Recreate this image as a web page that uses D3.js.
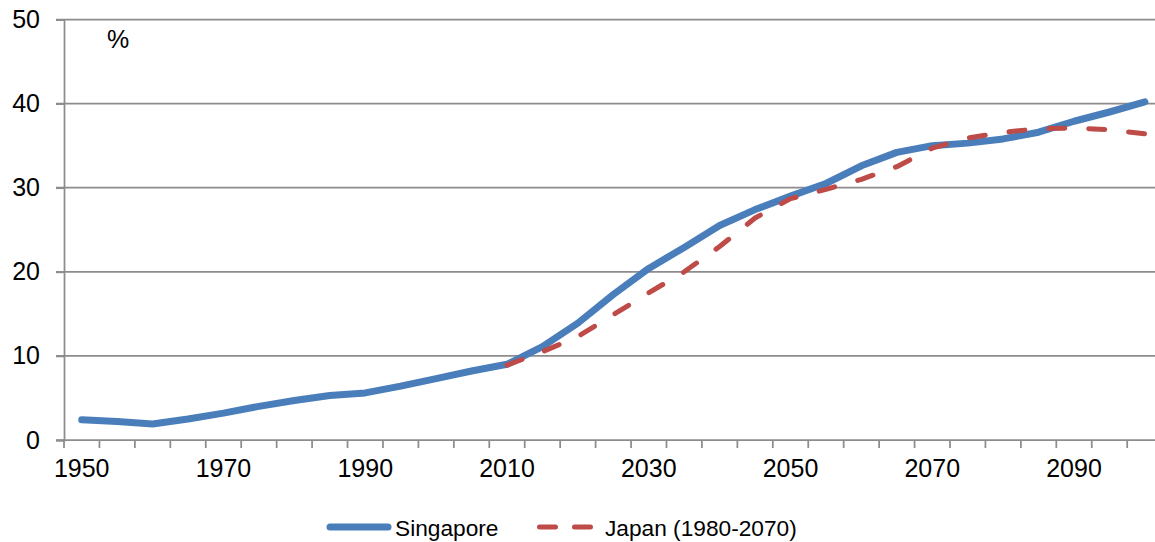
<!DOCTYPE html>
<html>
<head>
<meta charset="utf-8">
<script src="https://cdn.jsdelivr.net/npm/d3@7"></script>
<style>
  html, body { margin: 0; padding: 0; background: #fff; }
  svg { display: block; }
  text { font-family: "Liberation Sans", Arial, sans-serif; fill: #000; }
</style>
</head>
<body>
<svg id="chart" width="1155" height="542"></svg>
<script>
const years = [1950, 1955, 1960, 1965, 1970, 1975, 1980, 1985, 1990, 1995,
  2000, 2005, 2010, 2015, 2020, 2025, 2030, 2035, 2040, 2045,
  2050, 2055, 2060, 2065, 2070, 2075, 2080, 2085, 2090, 2095, 2100];
const singapore = [2.4, 2.2, 1.9, 2.5, 3.2, 4.0, 4.7, 5.3, 5.6, 6.4,
  7.3, 8.2, 9.0, 11.1, 13.9, 17.3, 20.4, 22.9, 25.5, 27.4,
  29.0, 30.5, 32.6, 34.2, 35.0, 35.3, 35.8, 36.6, 37.9, 39.0, 40.2];
const japan = [null, null, null, null, null, null, null, null, null, null,
  null, null, 8.9, 10.5, 12.3, 14.9, 17.5, 20.0, 23.0, 26.4,
  28.7, 29.8, 31.0, 32.5, 34.7, 35.9, 36.6, 37.0, 37.1, 36.9, 36.4];
const yTicks = [0, 10, 20, 30, 40, 50];
const xLabels = [1950, 1970, 1990, 2010, 2030, 2050, 2070, 2090];
const seriesNames = ["Singapore", "Japan (1980-2070)"];

const svg = d3.select("#chart");
const left = 64, bandW = 35.44;
const x = d3.scaleBand().domain(years).range([left, left + years.length * bandW]).padding(0);
const y = d3.scaleLinear().domain([0, 50]).range([440, 19.5]);
const gridColor = "#8c8c8c";

// gridlines
svg.append("g").selectAll("line").data(yTicks.filter(d => d > 0)).join("line")
  .attr("x1", left - 8).attr("x2", 1155)
  .attr("y1", d => y(d)).attr("y2", d => y(d))
  .attr("stroke", gridColor).attr("stroke-width", 1.75);

// y axis
const yAxis = svg.append("g").attr("transform", `translate(${left},0)`)
  .call(d3.axisLeft(y).tickValues(yTicks).tickSize(8).tickPadding(16));
yAxis.select(".domain").attr("stroke", gridColor).attr("stroke-width", 1.75);
yAxis.selectAll(".tick line").attr("stroke", gridColor).attr("stroke-width", 1.75);
yAxis.selectAll(".tick text").style("font-size", "25px").style("font-family", "Liberation Sans, Arial, sans-serif").attr("fill", "#000");

// x axis baseline
svg.append("line").attr("x1", left - 8).attr("x2", 1155).attr("y1", y(0)).attr("y2", y(0))
  .attr("stroke", gridColor).attr("stroke-width", 1.75);
// x tick marks at band boundaries
const boundaries = years.map(d => x(d)).concat([x(years[years.length - 1]) + x.bandwidth()]);
svg.append("g").selectAll("line").data(boundaries).join("line")
  .attr("x1", d => d).attr("x2", d => d)
  .attr("y1", y(0)).attr("y2", y(0) + 8)
  .attr("stroke", gridColor).attr("stroke-width", 1.75);
// x labels
svg.append("g").selectAll("text").data(xLabels).join("text")
  .attr("x", d => x(d) + x.bandwidth() / 2).attr("y", 477)
  .attr("text-anchor", "middle").style("font-size", "25px").text(d => d);

// unit label
svg.append("text").attr("x", 107).attr("y", 48).style("font-size", "25px").text("%");

// lines
const cx = (d, i) => x(years[i]) + x.bandwidth() / 2;
const lineGen = d3.line().defined(d => d !== null).x(cx).y(d => y(d));
svg.append("path").datum(singapore).attr("d", lineGen)
  .attr("fill", "none").attr("stroke", "#4a7ebb").attr("stroke-width", 7)
  .attr("stroke-linejoin", "round").attr("stroke-linecap", "round");
svg.append("path").datum(japan).attr("d", lineGen)
  .attr("fill", "none").attr("stroke", "#be4b48").attr("stroke-width", 5)
  .attr("stroke-dasharray", "16,24").attr("stroke-linejoin", "round").attr("stroke-linecap", "round");

// legend
const lg = svg.append("g");
lg.append("line").attr("x1", 330).attr("x2", 388).attr("y1", 527).attr("y2", 527)
  .attr("stroke", "#4a7ebb").attr("stroke-width", 7).attr("stroke-linecap", "round");
lg.append("text").attr("x", 395).attr("y", 536).style("font-size", "22.7px").text(seriesNames[0]);
lg.append("line").attr("x1", 539.5).attr("x2", 591).attr("y1", 527).attr("y2", 527)
  .attr("stroke", "#be4b48").attr("stroke-width", 5).attr("stroke-linecap", "round")
  .attr("stroke-dasharray", "16,19");
lg.append("text").attr("x", 605).attr("y", 536).style("font-size", "22.7px").text(seriesNames[1]);
</script>
</body>
</html>
